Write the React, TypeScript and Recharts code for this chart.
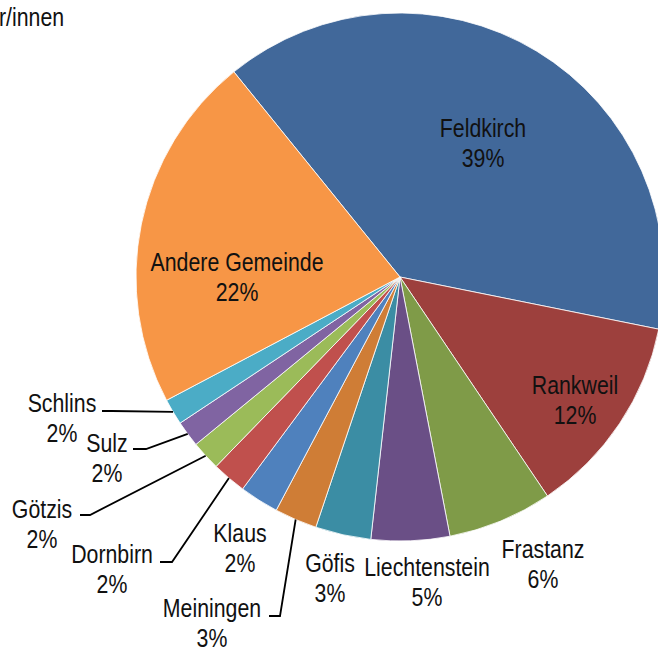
import React from 'react';
import { PieChart, Pie, Cell } from 'recharts';

const places = [
  'Feldkirch',
  'Rankweil',
  'Frastanz',
  'Liechtenstein',
  'Göfis',
  'Meiningen',
  'Klaus',
  'Dornbirn',
  'Götzis',
  'Sulz',
  'Schlins',
  'Andere Gemeinde',
];
const shares = [39.0, 12.4, 6.4, 4.8, 3.4, 2.6, 2.4, 2.1, 1.8, 1.6, 1.6, 21.9];
const titleText = 'r/innen';

const colors = [
  '#41689A',
  '#9D403D',
  '#7F9B48',
  '#6A4F86',
  '#3B8DA4',
  '#CF7D36',
  '#4F81BD',
  '#C0504D',
  '#9BBB59',
  '#8064A2',
  '#4BACC6',
  '#F79646',
];

const data = places.map((name, i) => ({ name, value: shares[i] }));

// label placement relative to pie centre (px), optional leader polyline (label end, elbow)
const labelLayout: Record<string, { dx: number; dy: number; leader?: [number, number][] }> = {
  Feldkirch: { dx: 83, dy: -134.5 },
  Rankweil: { dx: 175, dy: 122.5 },
  Frastanz: { dx: 143, dy: 286.5 },
  Liechtenstein: { dx: 27, dy: 305 },
  'Göfis': { dx: -70, dy: 300.5 },
  Meiningen: { dx: -188, dy: 345.5, leader: [[-131, 339], [-120, 339]] },
  Klaus: { dx: -160, dy: 270.5 },
  Dornbirn: { dx: -288, dy: 292, leader: [[-240, 285], [-228, 285]] },
  'Götzis': { dx: -358, dy: 247, leader: [[-320, 238], [-310, 238]] },
  Sulz: { dx: -293, dy: 180.5, leader: [[-267, 172], [-254, 172]] },
  Schlins: { dx: -338, dy: 140.5, leader: [[-298, 134], [-288, 134]] },
  'Andere Gemeinde': { dx: -163, dy: 0 },
};

const FONT = "'Liberation Sans', Arial, sans-serif";
const NARROW = 0.82;
const RAD = Math.PI / 180;

const NarrowText = ({ x, y, children, anchor = 'middle' }: any) => (
  <text
    transform={`translate(${x},${y}) scale(${NARROW},1)`}
    textAnchor={anchor}
    fill="#111"
    fontSize={26}
    fontFamily={FONT}
  >
    {children}
  </text>
);

const renderLabel = (props: any) => {
  const { cx, cy, midAngle, outerRadius, percent, name } = props;
  const lay = labelLayout[name];
  if (!lay) return null;
  const tx = cx + lay.dx;
  const ty = cy + lay.dy;
  let leader = null;
  if (lay.leader) {
    const ex = cx + outerRadius * Math.cos(-midAngle * RAD);
    const ey = cy + outerRadius * Math.sin(-midAngle * RAD);
    const pts = lay.leader.map(([x, y]) => `${cx + x},${cy + y}`).join(' ') + ` ${ex},${ey}`;
    leader = <polyline points={pts} fill="none" stroke="#000" strokeWidth={1.8} />;
  }
  return (
    <g key={`lbl-${name}`}>
      {leader}
      <NarrowText x={tx} y={ty - 15 + 9}>{name}</NarrowText>
      <NarrowText x={tx} y={ty + 15 + 9}>{`${Math.round(percent * 100)}%`}</NarrowText>
    </g>
  );
};

export default function App() {
  return (
    <div style={{ position: 'relative', width: 658, height: 648, background: '#fff', overflow: 'hidden' }}>
      <style>{`html,body{margin:0;padding:0;overflow:hidden;}`}</style>
      <PieChart width={658} height={648} margin={{ top: 0, right: 0, bottom: 0, left: 0 }}>
        <Pie
          data={data}
          dataKey="value"
          nameKey="name"
          cx={400}
          cy={277}
          outerRadius={264}
          startAngle={129}
          endAngle={-231}
          stroke="#ffffff"
          strokeWidth={0.8}
          label={renderLabel}
          labelLine={false}
          isAnimationActive={false}
        >
          {data.map((d, i) => (
            <Cell key={d.name} fill={colors[i]} />
          ))}
        </Pie>
      </PieChart>
      <svg width={658} height={40} style={{ position: 'absolute', left: 0, top: 0 }}>
        <NarrowText x={-1} y={26} anchor="start">{titleText}</NarrowText>
      </svg>
    </div>
  );
}
